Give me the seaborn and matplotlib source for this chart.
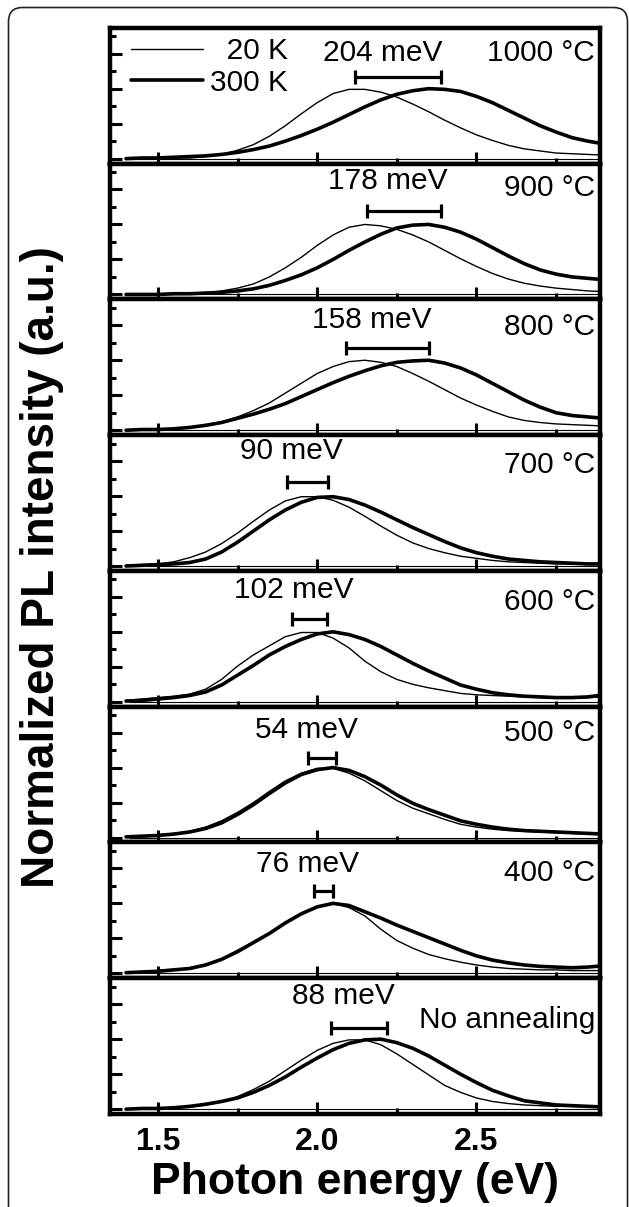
import matplotlib
matplotlib.use('Agg')
import matplotlib.pyplot as plt
import seaborn as sns
from matplotlib.patches import FancyBboxPatch
from matplotlib.transforms import IdentityTransform
from matplotlib.ticker import MultipleLocator

# photon energy grid (eV)
energy = [1.40, 1.45, 1.50, 1.55, 1.60, 1.65, 1.70, 1.75, 1.80, 1.85, 1.90,
          1.95, 2.00, 2.05, 2.10, 2.15, 2.20, 2.25, 2.30, 2.35, 2.40, 2.45,
          2.50, 2.55, 2.60, 2.65, 2.70, 2.75, 2.80, 2.85, 2.90]

panels = ['1000 °C', '900 °C', '800 °C', '700 °C', '600 °C', '500 °C',
          '400 °C', 'No annealing']
shift_labels = ['204 meV', '178 meV', '158 meV', '90 meV', '102 meV',
                '54 meV', '76 meV', '88 meV']
peak_20k = [2.12, 2.155, 2.09, 1.905, 1.92, 1.97, 1.99, 2.045]
peak_300k = [2.39, 2.39, 2.35, 2.035, 2.03, 2.06, 2.05, 2.22]

# normalized PL, 20 K (thin) and 300 K (thick)
pl20_1000 = [0.00, 0.00, 0.00, 0.01, 0.01, 0.03, 0.06, 0.12, 0.20, 0.32, 0.47,
             0.64, 0.80, 0.93, 0.99, 0.99, 0.95, 0.88, 0.78, 0.67, 0.55, 0.44,
             0.34, 0.26, 0.19, 0.14, 0.11, 0.08, 0.07, 0.06, 0.05]
pl300_1000 = [0.00, 0.01, 0.01, 0.02, 0.03, 0.04, 0.06, 0.09, 0.13, 0.18, 0.25,
              0.33, 0.42, 0.52, 0.63, 0.74, 0.84, 0.92, 0.97, 1.00, 0.99, 0.96,
              0.89, 0.80, 0.69, 0.58, 0.47, 0.38, 0.30, 0.25, 0.21]
pl20_900 = [0.00, 0.00, 0.00, 0.00, 0.01, 0.02, 0.05, 0.09, 0.15, 0.25, 0.38,
            0.53, 0.70, 0.85, 0.96, 1.00, 0.98, 0.93, 0.85, 0.75, 0.63, 0.51,
            0.40, 0.30, 0.22, 0.16, 0.12, 0.09, 0.07, 0.05, 0.04]
pl300_900 = [0.00, 0.00, 0.00, 0.01, 0.01, 0.02, 0.03, 0.05, 0.08, 0.13, 0.20,
             0.28, 0.38, 0.50, 0.63, 0.75, 0.86, 0.95, 0.99, 1.00, 0.96, 0.89,
             0.79, 0.67, 0.55, 0.44, 0.35, 0.29, 0.25, 0.23, 0.21]
pl20_800 = [0.00, 0.01, 0.01, 0.02, 0.04, 0.07, 0.12, 0.19, 0.28, 0.39, 0.53,
            0.67, 0.81, 0.91, 0.98, 1.00, 0.97, 0.91, 0.81, 0.70, 0.58, 0.46,
            0.36, 0.27, 0.19, 0.14, 0.11, 0.09, 0.08, 0.07, 0.06]
pl300_800 = [0.00, 0.01, 0.01, 0.02, 0.04, 0.07, 0.11, 0.17, 0.23, 0.30, 0.38,
             0.48, 0.58, 0.68, 0.77, 0.85, 0.92, 0.97, 0.99, 1.00, 0.96, 0.89,
             0.79, 0.67, 0.55, 0.43, 0.33, 0.25, 0.21, 0.19, 0.17]
pl20_700 = [0.01, 0.02, 0.03, 0.06, 0.12, 0.20, 0.32, 0.47, 0.64, 0.80, 0.93,
            0.99, 0.99, 0.94, 0.84, 0.71, 0.57, 0.44, 0.33, 0.25, 0.19, 0.14,
            0.11, 0.08, 0.06, 0.05, 0.04, 0.03, 0.03, 0.02, 0.02]
pl300_700 = [0.00, 0.01, 0.02, 0.03, 0.05, 0.10, 0.20, 0.34, 0.50, 0.66, 0.80,
             0.91, 0.98, 0.99, 0.95, 0.87, 0.77, 0.66, 0.55, 0.45, 0.35, 0.26,
             0.19, 0.14, 0.10, 0.08, 0.06, 0.05, 0.04, 0.03, 0.03]
pl20_600 = [0.02, 0.04, 0.06, 0.08, 0.11, 0.18, 0.32, 0.51, 0.67, 0.80, 0.93,
            0.99, 0.99, 0.91, 0.77, 0.58, 0.43, 0.32, 0.25, 0.20, 0.16, 0.12,
            0.10, 0.09, 0.08, 0.07, 0.06, 0.06, 0.06, 0.06, 0.07]
pl300_600 = [0.01, 0.02, 0.04, 0.06, 0.09, 0.14, 0.24, 0.38, 0.52, 0.67, 0.79,
             0.89, 0.97, 1.00, 0.96, 0.89, 0.79, 0.67, 0.55, 0.44, 0.34, 0.24,
             0.18, 0.13, 0.10, 0.08, 0.07, 0.06, 0.06, 0.07, 0.10]
pl20_500 = [0.01, 0.02, 0.04, 0.06, 0.09, 0.15, 0.24, 0.36, 0.50, 0.66, 0.81,
            0.92, 0.99, 0.99, 0.92, 0.81, 0.67, 0.53, 0.42, 0.34, 0.26, 0.19,
            0.15, 0.12, 0.10, 0.09, 0.08, 0.07, 0.06, 0.05, 0.05]
pl300_500 = [0.01, 0.02, 0.03, 0.05, 0.08, 0.13, 0.21, 0.33, 0.47, 0.63, 0.78,
             0.90, 0.97, 1.00, 0.96, 0.87, 0.75, 0.61, 0.49, 0.40, 0.32, 0.24,
             0.19, 0.15, 0.12, 0.10, 0.09, 0.08, 0.07, 0.06, 0.05]
pl20_400 = [0.01, 0.02, 0.04, 0.05, 0.08, 0.13, 0.21, 0.33, 0.45, 0.58, 0.73,
            0.86, 0.96, 1.00, 0.94, 0.82, 0.63, 0.47, 0.36, 0.27, 0.21, 0.16,
            0.12, 0.09, 0.07, 0.06, 0.05, 0.05, 0.04, 0.04, 0.04]
pl300_400 = [0.01, 0.02, 0.03, 0.05, 0.07, 0.12, 0.20, 0.31, 0.44, 0.57, 0.72,
             0.85, 0.95, 1.00, 0.97, 0.88, 0.79, 0.69, 0.60, 0.51, 0.42, 0.33,
             0.25, 0.19, 0.15, 0.12, 0.10, 0.09, 0.08, 0.09, 0.11]
pl20_none = [0.00, 0.00, 0.01, 0.02, 0.03, 0.06, 0.11, 0.18, 0.28, 0.40, 0.55,
             0.70, 0.84, 0.94, 0.99, 0.99, 0.92, 0.79, 0.64, 0.49, 0.34, 0.24,
             0.16, 0.11, 0.08, 0.06, 0.05, 0.04, 0.04, 0.03, 0.03]
pl300_none = [0.00, 0.01, 0.01, 0.02, 0.04, 0.07, 0.11, 0.16, 0.24, 0.34, 0.46,
              0.60, 0.73, 0.85, 0.94, 0.99, 1.00, 0.95, 0.87, 0.76, 0.63, 0.50,
              0.38, 0.27, 0.19, 0.12, 0.09, 0.06, 0.05, 0.04, 0.03]

spectra_20k = [pl20_1000, pl20_900, pl20_800, pl20_700, pl20_600, pl20_500,
               pl20_400, pl20_none]
spectra_300k = [pl300_1000, pl300_900, pl300_800, pl300_700, pl300_600,
                pl300_500, pl300_400, pl300_none]

# text placement per panel (data units)
temp_y = [1.51, 1.52, 1.47, 1.44, 1.42, 1.50, 1.43, 1.28]
shift_y = [1.51, 1.62, 1.57, 1.65, 1.60, 1.54, 1.56, 1.62]
bar_y = [1.17, 1.19, 1.17, 1.20, 1.19, 1.14, 1.17, 1.16]

sns.set_style('ticks')
plt.rcParams['font.family'] = ['Liberation Sans', 'DejaVu Sans']
plt.rcParams.update({'text.color': 'black', 'axes.labelcolor': 'black',
                     'xtick.color': 'black', 'ytick.color': 'black',
                     'axes.edgecolor': 'black',
                     'lines.solid_capstyle': 'round'})

fig, axes = plt.subplots(8, 1, figsize=(6.29, 12.07), dpi=100, sharex=True)
fig.subplots_adjust(left=0.175, right=0.954, top=0.977, bottom=0.077, hspace=0)

for i, ax in enumerate(axes):
    ax.hlines(0, 1.41, 2.95, color='black', lw=0.8)
    sns.lineplot(x=energy, y=spectra_20k[i], ax=ax, color='black', lw=1.0,
                 label='\u200720 K' if i == 0 else None, legend=False)
    sns.lineplot(x=energy, y=spectra_300k[i], ax=ax, color='black', lw=2.6,
                 label='300 K' if i == 0 else None, legend=False)

    center = (peak_20k[i] + peak_300k[i]) / 2
    half = (peak_300k[i] - peak_20k[i]) / 2
    ax.errorbar(center, bar_y[i], xerr=half, color='black', lw=2.3,
                capsize=5, capthick=2.3)
    ax.text(center - 0.05, shift_y[i], shift_labels[i], fontsize=21.5,
            ha='center', va='center', color='black')
    ax.text(0.99, temp_y[i], panels[i], fontsize=21.5, ha='right',
            va='center', color='black', transform=ax.get_yaxis_transform())

    ax.set_xlim(1.35, 2.888)
    ax.set_ylim(-0.07, 1.87)
    ax.set_ylabel('')
    ax.xaxis.set_major_locator(MultipleLocator(0.5))
    ax.xaxis.set_minor_locator(MultipleLocator(0.25))
    ax.yaxis.set_major_locator(MultipleLocator(0.5))
    ax.yaxis.set_minor_locator(MultipleLocator(0.25))
    ax.tick_params(which='both', direction='in', top=False, right=False,
                   labelleft=False, width=2.2, color='black')
    ax.tick_params(which='major', length=8.5)
    ax.tick_params(which='minor', length=4.5)
    for sp in ax.spines.values():
        sp.set_linewidth(3.2)
        sp.set_color('black')

leg = axes[0].legend(loc='upper left', bbox_to_anchor=(0.043, 0.93),
                     frameon=False, fontsize=21.5, handlelength=2.42,
                     handletextpad=0.23, labelspacing=0.12, borderpad=0,
                     borderaxespad=0)
for t in leg.get_texts():
    t.set_color('black')

bottom = axes[-1]
bottom.tick_params(axis='x', which='major', labelbottom=True, labelsize=23,
                   pad=9)
bottom.set_xticks([1.5, 2.0, 2.5])
bottom.set_xticklabels(['1.5', '2.0', '2.5'], fontweight='bold', fontsize=23,
                       color='black')
bottom.set_xlabel('Photon energy (eV)', fontsize=32, fontweight='bold',
                  labelpad=4, color='black')

fig.text(0.066, 0.53, 'Normalized PL intensity (a.u.)', rotation=90,
         fontsize=33, fontweight='bold', ha='center', va='center',
         color='black')

frame = FancyBboxPatch((8.5, -30), 619, 1229.5,
                       boxstyle='round,pad=0,rounding_size=14',
                       transform=IdentityTransform(), facecolor='none',
                       edgecolor='#222222', lw=1.2)
fig.patches.append(frame)

plt.savefig('out.png', dpi=100)
